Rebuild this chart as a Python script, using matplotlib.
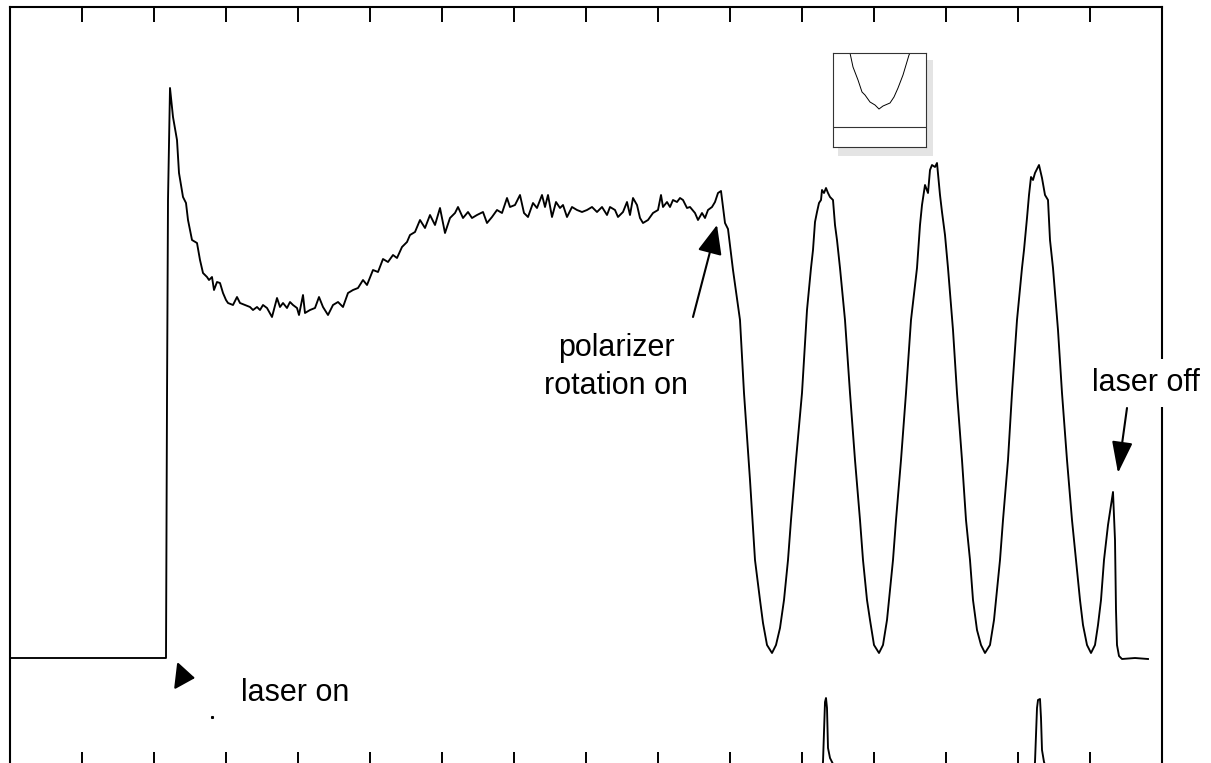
import matplotlib
matplotlib.use("Agg")
import matplotlib.pyplot as plt
from matplotlib.patches import Rectangle

plt.rcParams["font.family"] = ["Liberation Sans", "DejaVu Sans"]

# main detector trace: sample index vs signal (arb. units)
sample = [10, 60, 110, 164, 166, 167, 168, 170,
          173, 177, 179, 183, 186, 188, 192, 197, 200, 203, 207, 209, 212, 214,
          217, 220, 223, 226, 228, 233, 237, 240, 245, 250, 253, 257, 260, 263,
          267, 272, 277, 280, 283, 287, 290, 293, 297, 299, 303, 305, 310, 315,
          319, 323, 328, 333, 338, 343, 348, 353, 358, 363, 367, 373, 378, 383,
          388, 393, 397, 402, 407, 410, 415, 420, 425, 430, 435, 440, 445, 450,
          455, 458, 463, 468, 472, 477, 483, 487, 492, 497, 502, 507, 510, 515,
          520, 524, 528, 533, 537, 542, 545, 548, 552, 556, 560, 563, 567, 572,
          577, 582, 587, 592, 597, 602, 607, 610, 615, 618, 623, 627, 630, 633,
          637, 640, 643, 648, 653, 658, 661, 663, 667, 670, 673, 677, 680, 683,
          687, 690, 695, 698, 702, 705, 708, 712, 715, 718, 721, 723, 725, 728,
          733, 740, 744, 750, 755, 760, 763, 767, 772, 776, 780, 784, 788, 791,
          796, 802, 807, 811, 813, 815, 817, 819, 821, 822, 824, 826, 828, 830,
          833, 835, 837, 840, 845, 850, 855, 860, 863, 867, 870, 874, 879, 883,
          887, 890, 893, 896, 901, 906, 911, 917, 920, 922, 925, 928, 930, 932,
          935, 937, 940, 942, 945, 948, 953, 957, 962, 966, 970, 973, 977, 981,
          985, 990, 994, 997, 1000, 1003, 1008, 1012, 1017, 1022, 1024, 1027,
          1029, 1031, 1033, 1035, 1039, 1042, 1045, 1048, 1050, 1053, 1058, 1062,
          1067, 1072, 1076, 1080, 1083, 1087, 1091, 1095, 1098, 1101, 1104, 1108,
          1113, 1115, 1116, 1117, 1119, 1122, 1135, 1148]
signal = [0, 0, 0, 0, 0, 258, 458, 570,
          541, 518, 485, 461, 455, 438, 418, 415, 398, 385, 381, 378, 381, 368,
          376, 375, 365, 358, 355, 353, 361, 355, 353, 351, 348, 351, 348, 353,
          350, 341, 360, 351, 355, 350, 356, 353, 350, 343, 363, 345, 348, 350,
          361, 351, 343, 353, 356, 351, 365, 368, 370, 378, 373, 388, 386, 399,
          396, 403, 400, 411, 416, 423, 426, 438, 430, 443, 433, 450, 425, 440,
          445, 451, 440, 446, 440, 443, 446, 435, 441, 448, 445, 460, 451, 453,
          463, 445, 441, 455, 450, 463, 451, 463, 441, 456, 450, 453, 441, 451,
          448, 446, 448, 451, 446, 451, 443, 451, 448, 441, 446, 456, 443, 460,
          453, 440, 435, 438, 445, 448, 463, 451, 456, 451, 458, 456, 460, 458,
          450, 451, 445, 438, 445, 440, 448, 451, 456, 465, 467, 451, 435, 429,
          388, 338, 265, 178, 98, 58, 35, 13, 5, 13, 30, 58, 98, 138,
          198, 265, 348, 390, 408, 436, 446, 455, 458, 468, 465, 470, 465, 461,
          458, 433, 418, 390, 338, 265, 198, 138, 98, 58, 38, 13, 5, 13,
          38, 68, 98, 138, 198, 265, 338, 390, 433, 453, 473, 465, 488, 493,
          491, 495, 463, 446, 423, 390, 328, 265, 198, 138, 98, 58, 28, 13,
          5, 13, 38, 68, 98, 138, 198, 265, 338, 390, 408, 440,
          463, 481, 478, 485, 493, 480, 463, 458, 418, 390, 328, 265,
          198, 138, 98, 58, 33, 13, 5, 13, 33, 58, 98, 133,
          166, 118, 48, 13, 2, -1, 0, -1]

# reference pulse channel (mostly below the visible window)
ref_sample = [780, 820, 823, 825, 826, 827, 828, 830, 833, 838, 845,
              1032, 1035, 1037, 1038, 1040, 1041, 1042, 1044, 1048, 1055, 1120]
ref_signal = [-132, -132, -104, -44, -40, -50, -90, -100, -106, -125, -132,
              -132, -104, -50, -42, -41, -60, -92, -104, -115, -132, -132]

tick_pos = list(range(82, 1162, 72))

# small inset glyph (minimum of a parabola)
inset_x = [17, 20, 25, 29, 32, 37, 42, 46, 50, 57, 61, 65, 70, 76, 77]
inset_y = [94, 80, 67, 55, 52, 45, 42, 38, 41, 44, 50, 59, 72, 92, 94]

W, H = 1211, 763
fig = plt.figure(figsize=(W / 100, H / 100), dpi=100)
ax = fig.add_axes([10 / W, -4 / H, 1152 / W, 760 / H])

ax.plot(sample, signal, color="black", lw=1.35)
ax.plot(ref_sample, ref_signal, color="black", lw=1.35)
ax.plot([212], [-59], "s", color="black", ms=1.2)

ax.set_xlim(10, 1162)
ax.set_ylim(-109, 651)
ax.set_xticks(tick_pos)
ax.set_yticks([])
ax.tick_params(axis="x", direction="in", top=True, bottom=True,
               length=10.8, width=1.4, labelbottom=False)
for sp in ax.spines.values():
    sp.set_linewidth(1.5)

fs = 22
ax.text(295, -35, "laser on", fontsize=fs, ha="center", va="center")
ax.text(616, 291, "polarizer\nrotation on", fontsize=fs, ha="center",
        va="center", multialignment="center", linespacing=1.35)
ax.text(1146, 275, "laser off", fontsize=fs, ha="center", va="center",
        zorder=5, clip_on=False,
        bbox=dict(boxstyle="square,pad=0.3", fc="white", ec="none"))

ax.annotate("", xy=(195, -20), xytext=(178, -18),
            arrowprops=dict(arrowstyle="-|>,head_length=0.6,head_width=0.43",
                            color="black", mutation_scale=20,
                            shrinkA=0, shrinkB=0, lw=1.5))
ax.annotate("", xy=(717, 433), xytext=(693, 341),
            arrowprops=dict(arrowstyle="-|>,head_length=0.9,head_width=0.38",
                            color="black", mutation_scale=20,
                            shrinkA=0, shrinkB=0, lw=1.5))
ax.annotate("", xy=(1118, 185), xytext=(1127, 250),
            arrowprops=dict(arrowstyle="-|>,head_length=0.97,head_width=0.32",
                            color="black", mutation_scale=20,
                            shrinkA=0, shrinkB=0, lw=1.5))

# inset with drop shadow
fig.patches.append(Rectangle((838 / W, (H - 156) / H), 95 / W, 96 / H,
                             transform=fig.transFigure, fc="#e4e4e4",
                             ec="none", zorder=1))
ins = fig.add_axes([833 / W, (H - 147) / H, 93 / W, 94 / H], zorder=2)
ins.plot(inset_x, inset_y, color="black", lw=0.7)
ins.axhline(20, color="#333333", lw=0.8)
ins.set_xlim(0, 93)
ins.set_ylim(0, 94)
ins.set_xticks([])
ins.set_yticks([])
for sp in ins.spines.values():
    sp.set_linewidth(0.8)
    sp.set_color("#333333")

fig.savefig("out.png", dpi=100)
